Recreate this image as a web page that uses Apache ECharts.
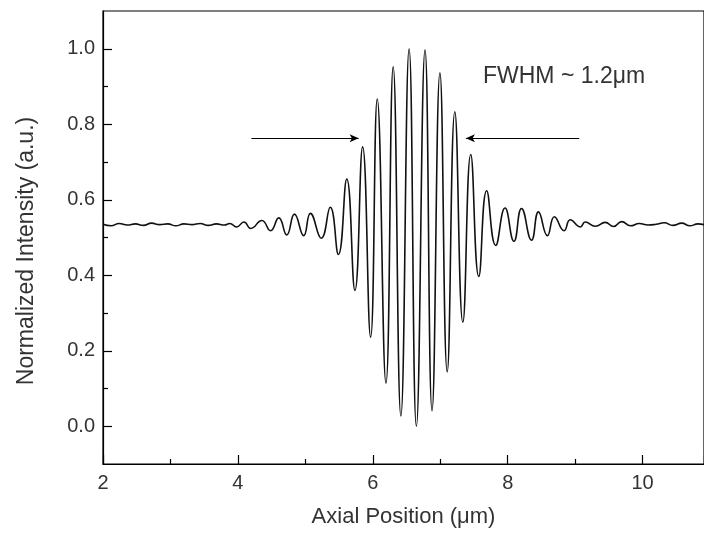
<!DOCTYPE html>
<html>
<head>
<meta charset="utf-8">
<script src="https://cdn.jsdelivr.net/npm/echarts@6/dist/echarts.min.js"></script>
<style>html,body{margin:0;padding:0;background:#fff;}#c{width:704px;height:533px;}</style>
</head>
<body>
<div id="c"></div>
<script>
// Data
var positions = [2.00,2.12,2.24,2.36,2.48,2.60,2.72,2.84,2.96,3.08,3.20,3.32,3.44,3.56,3.68,3.80,3.88,3.98,
  4.09,4.19,4.355,4.484,4.606,4.724,4.838,4.975,5.074,5.236,5.369,5.49,5.614,5.735,5.849,5.967,
  6.066,6.195,6.302,6.416,6.538,6.646,6.774,6.878,6.995,7.103,7.216,7.335,7.452,7.571,7.688,7.822,
  7.960,8.092,8.205,8.353,8.456,8.588,8.692,8.835,8.928,9.075,9.149,9.30,9.445,9.57,9.69,9.82,
  9.95,10.08,10.20,10.32,10.45,10.58,10.70,10.82,10.91];
var intensity = [0.535,0.531,0.537,0.533,0.536,0.532,0.538,0.534,0.536,0.531,0.536,0.534,0.537,0.532,0.536,0.533,0.537,0.528,
  0.541,0.524,0.545,0.518,0.552,0.507,0.562,0.505,0.564,0.498,0.580,0.455,0.655,0.360,0.740,0.236,
  0.867,0.114,0.952,0.027,1.000,0.000,0.997,0.041,0.936,0.144,0.833,0.276,0.720,0.397,0.624,0.479,
  0.578,0.490,0.577,0.493,0.568,0.505,0.555,0.518,0.547,0.528,0.541,0.530,0.540,0.529,0.542,0.531,
  0.537,0.533,0.535,0.539,0.532,0.538,0.531,0.536,0.534];
var yMajorTicks = [0.0,0.2,0.4,0.6,0.8,1.0];
var yMinorTicks = [0.1,0.3,0.5,0.7,0.9];
// FWHM arrows: [fromX, toX, y]
var arrowLeft = [4.20, 5.79, 0.763];
var arrowRight = [9.06, 7.38, 0.763];
var annotation = 'FWHM ~ 1.2\u03bcm';
var xTitle = 'Axial Position (\u03bcm)';
var yTitle = 'Normalized Intensity (a.u.)';

var chart = echarts.init(document.getElementById('c'), null, {renderer:'canvas'});
var font = '"Liberation Sans", Arial, sans-serif';
var txt = '#333';
var option = {
  animation: false,
  backgroundColor: '#fff',
  grid: {left: 103, right: -3, top: 11, bottom: 67, show: true, borderColor: '#000', borderWidth: 1.2},
  xAxis: {
    type: 'value', min: 2, max: 10.91, interval: 2,
    name: xTitle, nameLocation: 'middle', nameGap: 42,
    nameTextStyle: {fontFamily: font, fontSize: 22, color: txt},
    axisLine: {show: true, onZero: false, lineStyle: {color: '#000', width: 1.2}},
    axisTick: {show: true, inside: true, length: 9, lineStyle: {color: '#000', width: 1.2}},
    minorTick: {show: true, splitNumber: 2, length: 5, lineStyle: {color: '#000', width: 1.2}},
    axisLabel: {fontFamily: font, fontSize: 20, color: txt, margin: 9, showMaxLabel: false,
      formatter: function(v){ return String(v); }},
    splitLine: {show: false}, minorSplitLine: {show: false}
  },
  yAxis: [{
    type: 'value', min: -0.1, max: 1.1,
    axisLine: {show: true, onZero: false, lineStyle: {color: '#000', width: 1.2}},
    axisTick: {show: true, inside: true, length: 9, customValues: yMajorTicks, lineStyle: {color: '#000', width: 1.2}},
    axisLabel: {fontFamily: font, fontSize: 20, color: txt, margin: 8, customValues: yMajorTicks,
      formatter: function(v){ return v.toFixed(1); }},
    splitLine: {show: false}
  }, {
    type: 'value', min: -0.1, max: 1.1, position: 'left',
    axisLine: {show: false},
    axisTick: {show: true, inside: true, length: 5, customValues: yMinorTicks, lineStyle: {color: '#000', width: 1.2}},
    axisLabel: {show: false},
    splitLine: {show: false}
  }],
  graphic: [{
    type: 'text', left: 483, top: 65,
    style: {text: annotation, fontFamily: font, fontSize: 23, fill: txt}
  }, {
    type: 'text', x: 27, y: 251, rotation: Math.PI / 2,
    style: {text: yTitle, fontFamily: font, fontSize: 23, fill: txt, align: 'center', verticalAlign: 'middle'}
  }],
  series: [{
    type: 'line', yAxisIndex: 0,
    data: positions.map(function(x, i){ return [x, intensity[i]]; }),
    smooth: 0.5, showSymbol: false, symbol: 'none',
    lineStyle: {color: '#111', width: 1.6},
    markLine: {
      silent: true, symbol: ['none', 'arrow'], symbolSize: [6, 9],
      label: {show: false},
      lineStyle: {color: '#000', width: 1.2, type: 'solid'},
      data: [
        [{coord: [arrowLeft[0], arrowLeft[2]]}, {coord: [arrowLeft[1], arrowLeft[2]]}],
        [{coord: [arrowRight[0], arrowRight[2]]}, {coord: [arrowRight[1], arrowRight[2]]}]
      ]
    }
  }]
};
chart.setOption(option);
</script>
</body>
</html>
